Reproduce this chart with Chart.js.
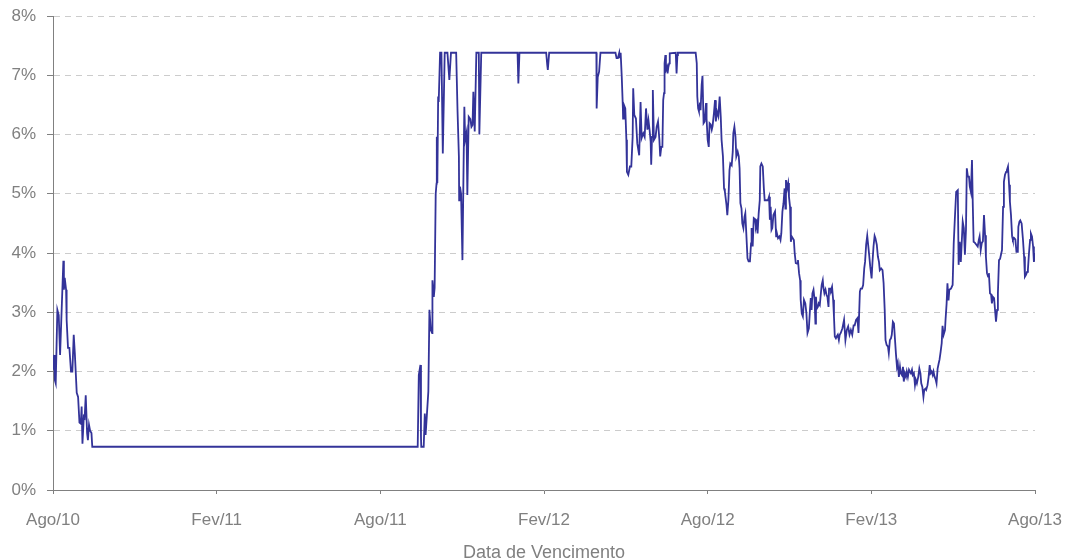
<!DOCTYPE html>
<html>
<head>
<meta charset="utf-8">
<script src="https://cdn.jsdelivr.net/npm/chart.js@4.4.1/dist/chart.umd.min.js"></script>
<style>
  body { margin: 0; background: #ffffff; }
  #caixa { width: 1066px; height: 560px; position: relative; }
</style>
</head>
<body>
<div id="caixa"><canvas id="grafico"></canvas></div>
<script>
// meses contados a partir de Ago/10
const meses = [
  0.00, 0.04, 0.07, 0.10, 0.16, 0.21, 0.26, 0.38, 0.40, 0.43, 0.48, 0.50, 0.55, 0.60, 0.66, 0.71, 0.76, 0.80,
  0.87, 0.92, 0.97, 1.02, 1.05, 1.08, 1.13, 1.16, 1.20, 1.25, 1.28, 1.32, 1.36, 1.41, 1.44,
  13.37, 13.41, 13.47, 13.49, 13.50, 13.59, 13.63, 13.66, 13.71, 13.76, 13.80, 13.85, 13.90, 13.91, 13.96, 13.99,
  14.03, 14.06, 14.07, 14.09, 14.12, 14.14, 14.19, 14.24, 14.29, 14.36, 14.46, 14.53, 14.59, 14.78, 14.83, 14.88,
  14.89, 14.92, 14.96, 15.01, 15.05, 15.08, 15.11, 15.16, 15.19, 15.24, 15.30, 15.34, 15.38, 15.41, 15.46, 15.52,
  15.61, 15.63, 15.70, 17.03, 17.06, 17.10, 18.08, 18.12, 18.14, 18.19, 19.92, 19.93, 19.97, 20.02, 20.07,
  20.62, 20.66, 20.71, 20.76, 20.78, 20.81, 20.85, 20.89, 20.90, 20.93, 20.98, 21.02, 21.04, 21.09, 21.15, 21.20,
  21.25, 21.27, 21.31, 21.37, 21.42, 21.49, 21.54, 21.58, 21.64, 21.69, 21.74, 21.79, 21.83, 21.87, 21.91, 21.93,
  21.96, 21.99, 22.03, 22.09, 22.13, 22.18, 22.23, 22.26, 22.30, 22.34, 22.37, 22.40, 22.42, 22.45, 22.47, 22.51,
  22.53, 22.56, 22.59, 22.61, 22.83, 22.86, 22.89, 22.91, 23.56, 23.60, 23.62, 23.65, 23.68, 23.72, 23.74, 23.78,
  23.81, 23.85, 23.89, 23.94, 23.96, 24.00, 24.04, 24.07, 24.11, 24.15, 24.18, 24.23, 24.27, 24.30, 24.34, 24.39,
  24.44, 24.48, 24.51, 24.56, 24.60, 24.63, 24.69, 24.72, 24.76, 24.80, 24.83, 24.88, 24.92, 24.94, 24.98, 25.02,
  25.05, 25.10, 25.14, 25.17, 25.20, 25.24, 25.27, 25.31, 25.35, 25.38, 25.41, 25.46, 25.50, 25.55, 25.59, 25.61,
  25.65, 25.69, 25.74, 25.77, 25.80, 25.83, 25.87, 25.91, 25.93, 25.97, 26.02, 26.06, 26.09, 26.17, 26.21, 26.25,
  26.28, 26.31, 26.34, 26.37, 26.41, 26.47, 26.51, 26.54, 26.58, 26.63, 26.67, 26.70, 26.74, 26.78, 26.82, 26.85,
  26.87, 26.91, 26.95, 26.98, 27.02, 27.05, 27.08, 27.12, 27.16, 27.19, 27.23, 27.28, 27.31, 27.35, 27.39, 27.41,
  27.45, 27.49, 27.53, 27.58, 27.62, 27.66, 27.71, 27.75, 27.78, 27.81, 27.84, 27.88, 27.92, 27.95, 27.97, 28.00,
  28.04, 28.07, 28.11, 28.15, 28.18, 28.22, 28.24, 28.28, 28.32, 28.36, 28.39, 28.43, 28.45, 28.49, 28.52, 28.56,
  28.60, 28.63, 28.66, 28.70, 28.73, 28.77, 28.81, 28.84, 28.88, 28.94, 29.00, 29.05, 29.10, 29.15, 29.20, 29.25,
  29.30, 29.35, 29.39, 29.44, 29.49, 29.53, 29.58, 29.61, 29.66, 29.70, 29.74, 29.77, 29.81, 29.85, 29.89, 29.92,
  29.96, 30.01, 30.04, 30.08, 30.12, 30.15, 30.20, 30.24, 30.28, 30.31, 30.36, 30.41, 30.45, 30.49, 30.52, 30.56,
  30.61, 30.64, 30.68, 30.72, 30.75, 30.79, 30.83, 30.86, 30.90, 30.94, 30.97, 31.01, 31.05, 31.08, 31.12, 31.16,
  31.19, 31.23, 31.27, 31.30, 31.34, 31.38, 31.41, 31.45, 31.49, 31.52, 31.56, 31.60, 31.63, 31.67, 31.72, 31.76,
  31.80, 31.83, 31.87, 31.91, 31.94, 31.98, 32.01, 32.06, 32.10, 32.14, 32.17, 32.21, 32.25, 32.28, 32.32, 32.36,
  32.39, 32.43, 32.47, 32.50, 32.54, 32.58, 32.61, 32.65, 32.70, 32.72, 32.76, 32.79, 32.83, 32.86, 32.92, 32.98,
  33.02, 33.06, 33.11, 33.17, 33.20, 33.24, 33.28, 33.35, 33.39, 33.43, 33.47, 33.50, 33.54, 33.58, 33.61, 33.65,
  33.69, 33.72, 33.75, 33.80, 33.85, 33.90, 33.94, 33.97, 34.01, 34.05, 34.09, 34.13, 34.17, 34.20, 34.24, 34.28,
  34.31, 34.35, 34.39, 34.42, 34.46, 34.50, 34.53, 34.57, 34.61, 34.64, 34.68, 34.72, 34.75, 34.79, 34.83, 34.86,
  34.90, 34.94, 34.97, 35.01, 35.05, 35.08, 35.12, 35.16, 35.19, 35.24, 35.28, 35.32, 35.37, 35.39, 35.43, 35.46,
  35.51, 35.56, 35.60, 35.63, 35.67, 35.71, 35.74, 35.78, 35.82, 35.85, 35.89, 35.93, 35.96, 36.00
];

// taxa em %
const taxas = [
  2.03, 2.28, 1.85, 1.80, 3.04, 2.95, 2.28, 3.87, 3.38, 3.58, 3.38, 2.87, 2.40, 2.40, 2.00, 2.00, 2.62, 2.31,
  1.64, 1.57, 1.14, 1.12, 1.41, 0.78, 1.24, 1.22, 1.60, 0.96, 0.84, 1.10, 1.00, 0.96, 0.73,
  0.73, 1.94, 2.11, 0.90, 0.73, 0.73, 1.29, 0.93, 1.29, 1.66, 3.04, 2.70, 2.65, 3.54, 3.26, 3.41,
  5.00, 5.17, 5.96, 5.18, 6.64, 6.55, 7.38, 7.38, 5.68, 7.38, 7.38, 6.92, 7.38, 7.38, 6.40, 5.63,
  4.89, 5.12, 5.00, 3.88, 5.40, 6.47, 5.91, 6.03, 4.98, 6.30, 6.26, 6.13, 6.16, 6.72, 6.05, 7.38,
  7.38, 6.00, 7.38, 7.38, 6.86, 7.38, 7.38, 7.17, 7.09, 7.38, 7.38, 6.44, 6.97, 7.06, 7.38,
  7.38, 7.29, 7.29, 7.38, 7.29, 7.38, 6.98, 6.47, 6.27, 6.50, 6.44, 5.91, 5.37, 5.32, 5.46, 5.46,
  5.96, 6.78, 6.33, 6.27, 5.85, 5.65, 6.55, 5.94, 6.02, 5.96, 6.44, 6.08, 6.24, 6.08, 5.88, 5.49,
  5.96, 6.75, 5.91, 5.96, 6.13, 6.22, 5.91, 5.63, 5.79, 5.79, 6.58, 6.70, 7.20, 7.34, 7.09, 7.14,
  7.03, 7.14, 7.20, 7.37, 7.38, 7.03, 7.34, 7.38, 7.38, 7.20, 6.64, 6.44, 6.39, 6.54, 6.41, 6.84,
  6.99, 6.19, 6.22, 6.53, 6.27, 5.91, 5.79, 6.19, 6.17, 6.08, 6.14, 6.36, 6.58, 6.22, 6.39, 6.31,
  6.64, 6.30, 5.91, 5.63, 5.09, 5.04, 4.81, 4.64, 4.89, 5.40, 5.51, 5.48, 5.71, 6.02, 6.13, 5.96,
  5.63, 5.71, 5.63, 5.43, 4.84, 4.75, 4.50, 4.42, 4.61, 4.67, 4.39, 3.91, 3.86, 3.86, 4.16, 4.42,
  4.11, 4.59, 4.57, 4.44, 4.50, 4.33, 4.67, 4.89, 5.46, 5.51, 5.46, 5.09, 4.89, 4.89, 4.89, 4.95,
  4.56, 4.78, 4.39, 4.42, 4.64, 4.70, 4.28, 4.33, 4.25, 4.28, 4.22, 4.33, 4.70, 4.84, 5.09, 4.75,
  5.23, 5.09, 5.18, 4.95, 4.78, 4.19, 4.28, 4.25, 4.22, 4.00, 3.83, 3.82, 3.88, 3.66, 3.54, 3.21,
  2.98, 2.93, 3.21, 3.15, 2.98, 2.65, 2.73, 3.04, 3.24, 3.04, 3.32, 3.38, 3.21, 2.81, 3.26, 3.06,
  3.09, 3.15, 3.12, 3.32, 3.46, 3.54, 3.43, 3.32, 3.38, 3.29, 3.26, 3.09, 3.40, 3.40, 3.37, 3.43,
  3.21, 2.93, 2.59, 2.56, 2.59, 2.62, 2.53, 2.62, 2.65, 2.73, 2.87, 2.53, 2.70, 2.76, 2.62, 2.70,
  2.62, 2.78, 2.78, 2.87, 2.90, 2.65, 3.35, 3.40, 3.40, 3.46, 3.74, 3.85, 4.14, 4.29, 4.11, 3.97,
  3.77, 3.57, 3.83, 4.11, 4.29, 4.25, 4.14, 3.94, 3.85, 3.71, 3.74, 3.71, 3.49, 3.04, 2.53, 2.45,
  2.42, 2.31, 2.53, 2.56, 2.62, 2.84, 2.81, 2.59, 2.31, 2.08, 2.14, 1.91, 2.08, 1.97, 1.94, 2.08,
  1.83, 1.97, 1.91, 2.00, 1.91, 2.03, 2.00, 1.97, 2.03, 1.94, 1.97, 1.77, 1.86, 1.80, 1.91, 2.05,
  1.97, 1.80, 1.74, 1.57, 1.69, 1.71, 1.69, 1.77, 1.91, 2.11, 1.97, 2.00, 1.94, 2.00, 1.91, 1.86,
  1.80, 2.05, 2.14, 2.20, 2.33, 2.48, 2.77, 2.62, 2.70, 2.87, 3.15, 3.49, 3.20, 3.38, 3.40, 3.46,
  4.16, 4.56, 5.03, 5.06, 3.80, 4.19, 3.85, 4.53, 4.42, 3.97, 4.40, 5.43, 5.29, 5.29, 5.12, 5.03,
  5.57, 4.80, 4.19, 4.17, 4.14, 4.11, 4.22, 4.28, 4.05, 4.17, 4.20, 4.64, 4.30, 3.94, 3.66, 3.60,
  3.66, 3.32, 3.30, 3.15, 3.26, 3.24, 3.24, 2.84, 3.04, 3.32, 3.88, 3.90, 3.90, 4.05, 4.78, 5.20,
  5.32, 5.37, 5.40, 5.46, 5.15, 4.87, 4.64, 4.28, 4.22, 4.25, 4.23, 4.02, 4.02, 4.44, 4.53, 4.55,
  4.50, 4.22, 3.94, 3.60, 3.63, 3.68, 3.72, 4.00, 4.22, 4.33, 4.28, 4.11, 3.85, 4.00
];

const rotulosX = ["Ago/10", "Fev/11", "Ago/11", "Fev/12", "Ago/12", "Fev/13", "Ago/13"];
const tituloX = "Data de Vencimento";

let pontos = [];
for (let i = 0; i < meses.length; i++) {
  pontos.push({ x: meses[i], y: taxas[i] });
}

const cinza = "#808080";
const fonte = "Arial, 'Liberation Sans', sans-serif";

new Chart(document.getElementById("grafico"), {
  type: "line",
  data: {
    datasets: [{
      data: pontos,
      borderColor: "#333399",
      borderWidth: 1.8,
      pointRadius: 0,
      tension: 0,
      fill: false
    }]
  },
  options: {
    responsive: true,
    maintainAspectRatio: false,
    animation: false,
    layout: { padding: { left: 0, right: 31, top: 16, bottom: 0 } },
    plugins: {
      legend: { display: false },
      tooltip: { enabled: false }
    },
    scales: {
      x: {
        type: "linear",
        min: 0,
        max: 36,
        afterFit: function (s) {
          s.height = 70;
          s.paddingLeft = 0;
          s.paddingRight = 0;
        },
        ticks: {
          stepSize: 6,
          autoSkip: false,
          maxRotation: 0,
          padding: 16,
          color: cinza,
          font: { family: fonte, size: 17 },
          callback: function (v) { return rotulosX[v / 6]; }
        },
        grid: {
          drawOnChartArea: false,
          drawTicks: true,
          tickLength: 4,
          tickColor: cinza
        },
        border: { color: cinza, width: 1 },
        title: {
          display: true,
          text: tituloX,
          color: cinza,
          padding: 0,
          font: { family: fonte, size: 18, lineHeight: 0.8 }
        }
      },
      y: {
        min: 0,
        max: 8,
        afterFit: function (s) {
          s.width = 53;
          s.paddingTop = 0;
          s.paddingBottom = 0;
        },
        ticks: {
          stepSize: 1,
          padding: 11,
          color: cinza,
          font: { family: fonte, size: 17 },
          callback: function (v) { return v + "%"; }
        },
        grid: {
          color: "#cccccc",
          tickColor: cinza,
          tickLength: 6
        },
        border: { color: cinza, width: 1, dash: [6, 5] }
      }
    }
  }
});
</script>
</body>
</html>
